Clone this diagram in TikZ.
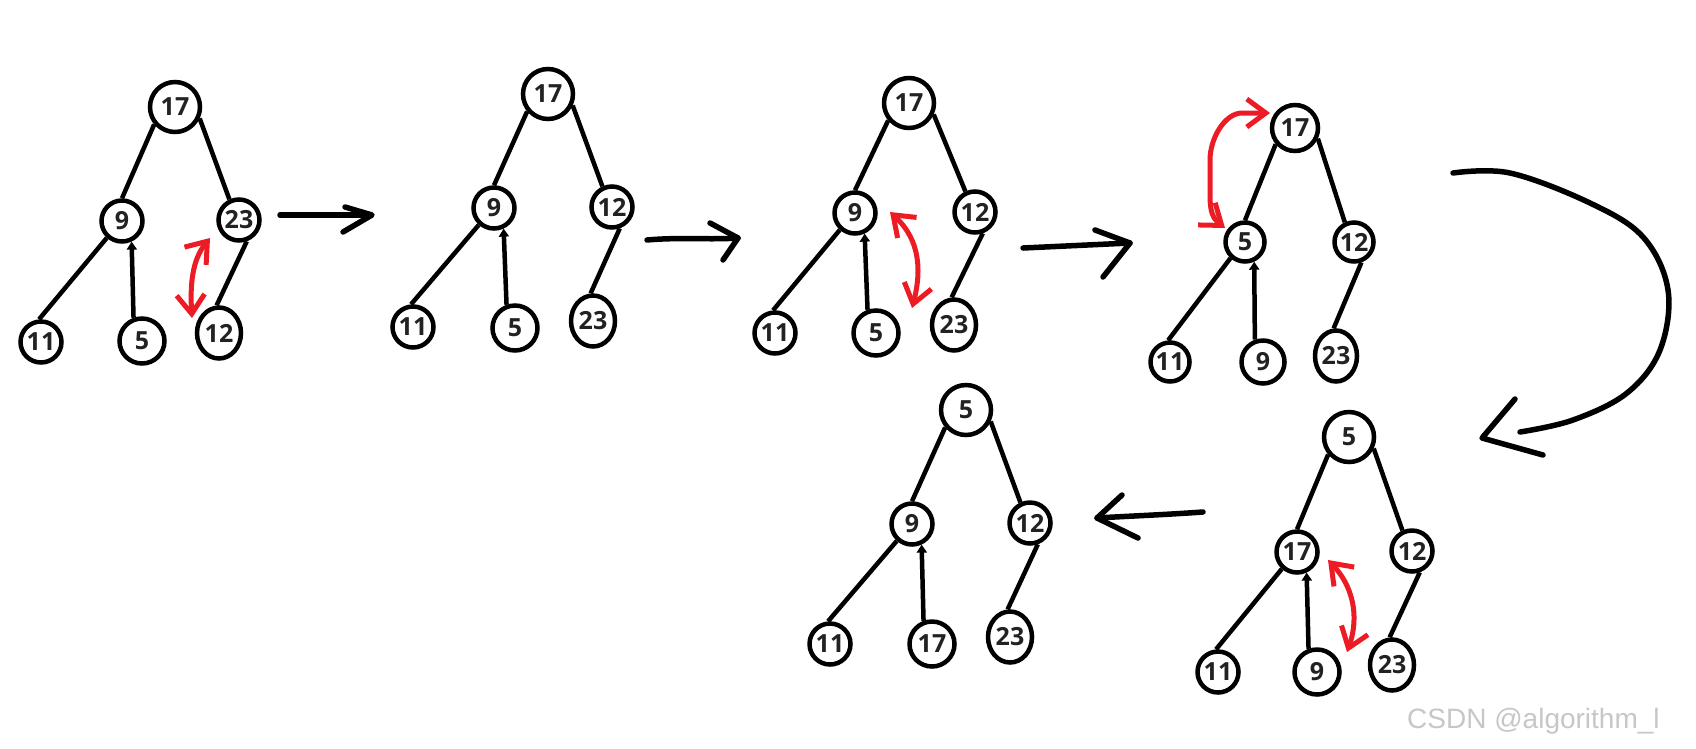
\documentclass[tikz,border=0pt]{standalone}
\usepackage{fontspec}
\newfontfamily\dfont{Open Sans}
\newfontfamily\wfont{Liberation Sans}
\usetikzlibrary{arrows.meta,shapes.geometric}
\definecolor{pred}{HTML}{ED1C24}
\definecolor{txt}{HTML}{222222}
\tikzset{
 tn/.style={circle, draw, line width=4.5pt, inner sep=0pt, text=txt, minimum size=41pt, font={\dfont\bfseries\fontsize{25}{25}\selectfont}},
 te/.style={ellipse, draw, line width=4.5pt, inner sep=0pt, minimum width=44pt, minimum height=51pt, text=txt, font={\dfont\bfseries\fontsize{25}{25}\selectfont}},
 lnk/.style={line width=4.5pt},
 upar/.style={line width=4.5pt, -{Triangle[length=8pt,width=10pt]}},
 swapar/.style={draw=pred, line width=5pt, line cap=round, {Straight Barb[length=19pt,width=28pt]}-{Straight Barb[length=19pt,width=28pt]}},
 flow/.style={line width=5.5pt, line cap=round, line join=round},
}
\newcommand\treeedges[1]{%
 \draw[lnk] (#11.220) -- (#12.90);
 \draw[lnk] (#11.-25) -- (#13.115);
 \draw[lnk] (#12.228) -- (#14.95);
 \draw[upar] (#15.110) -- (#12.-65);
 \draw[lnk] (#13.-70) -- (#16.95);
}
\begin{document}
\begin{tikzpicture}[x=1pt,y=-1pt]
\useasboundingbox[fill=white] (0,0) rectangle (1696,748);
% tree 1
\node[tn,minimum size=50pt] (a1) at (175,107) {17};
\node[tn] (a2) at (122,221) {9};
\node[tn] (a3) at (239,220) {23};
\node[tn] (a4) at (41,342) {11};
\node[tn,minimum size=45pt] (a5) at (142,341) {5};
\node[te] (a6) at (219,333) {12};
\treeedges{a}
\draw[swapar] (192,318) .. controls (190,285) and (192,260) .. (210,238);
% tree 2
\node[tn,minimum size=50pt] (b1) at (548,94) {17};
\node[tn] (b2) at (494,208) {9};
\node[tn] (b3) at (612,207) {12};
\node[tn] (b4) at (413,327) {11};
\node[tn,minimum size=45pt] (b5) at (515,328) {5};
\node[te] (b6) at (593,321) {23};
\treeedges{b}
% tree 3
\node[tn,minimum size=50pt] (c1) at (909,103) {17};
\node[tn] (c2) at (855,213) {9};
\node[tn] (c3) at (975,212) {12};
\node[tn] (c4) at (775,333) {11};
\node[tn,minimum size=45pt] (c5) at (876,333) {5};
\node[te] (c6) at (954,325) {23};
\treeedges{c}
\draw[swapar] (890,212) .. controls (915,235) and (924,262) .. (912,308);
% tree 4
\node[tn,minimum size=46pt] (d1) at (1295,128) {17};
\node[tn,minimum size=39pt] (d2) at (1245,242) {5};
\node[tn,minimum size=39pt] (d3) at (1354,242) {12};
\node[tn,minimum size=39pt] (d4) at (1170,362) {11};
\node[tn,minimum size=43pt] (d5) at (1263,362) {9};
\node[te,minimum width=42pt] (d6) at (1336,356) {23};
\treeedges{d}
\draw[swapar] (1225,228) .. controls (1212,218) and (1210,210) .. (1210,195) -- (1210,160) .. controls (1210,138) and (1225,113) .. (1242,113) -- (1270,113);
% tree 5
\node[tn,minimum size=50pt] (e1) at (1349,437) {5};
\node[tn] (e2) at (1297,552) {17};
\node[tn] (e3) at (1412,551) {12};
\node[tn] (e4) at (1218,672) {11};
\node[tn,minimum size=45pt] (e5) at (1317,672) {9};
\node[te] (e6) at (1392,665) {23};
\treeedges{e}
\draw[swapar] (1328,560) .. controls (1352,585) and (1360,615) .. (1347,652);
% tree 6
\node[tn,minimum size=50pt] (f1) at (966,410) {5};
\node[tn] (f2) at (912,524) {9};
\node[tn] (f3) at (1030,523) {12};
\node[tn] (f4) at (830,644) {11};
\node[tn,minimum size=45pt] (f5) at (932,644) {17};
\node[te] (f6) at (1010,637) {23};
\treeedges{f}
% flow arrows
\draw[flow] (280,215) -- (370,215);
\draw[flow] (345,207) -- (372,215) -- (343,232);
\draw[flow] (647,240) .. controls (680,237) and (710,240) .. (738,238);
\draw[flow] (710,223) -- (738,238) -- (723,260);
\draw[flow] (1023,248) -- (1130,243);
\draw[flow] (1095,230) -- (1130,243) -- (1103,277);
\draw[flow] plot[smooth,tension=0.6] coordinates {(1453,173) (1510,173) (1590,203) (1643,237) (1668,290) (1660,350) (1627,393) (1573,420) (1520,432)};
\draw[flow] (1515,399) -- (1482,438) -- (1543,455);
\draw[flow] (1203,512) .. controls (1160,515) and (1130,516) .. (1097,518);
\draw[flow] (1122,495) -- (1097,518) -- (1138,538);
% watermark
\node[anchor=base west, inner sep=0pt, text=black!22, font={\wfont\fontsize{28}{28}\selectfont}] (wm) at (1407,728) {CSDN @algorithm\_l};
\end{tikzpicture}
\end{document}
